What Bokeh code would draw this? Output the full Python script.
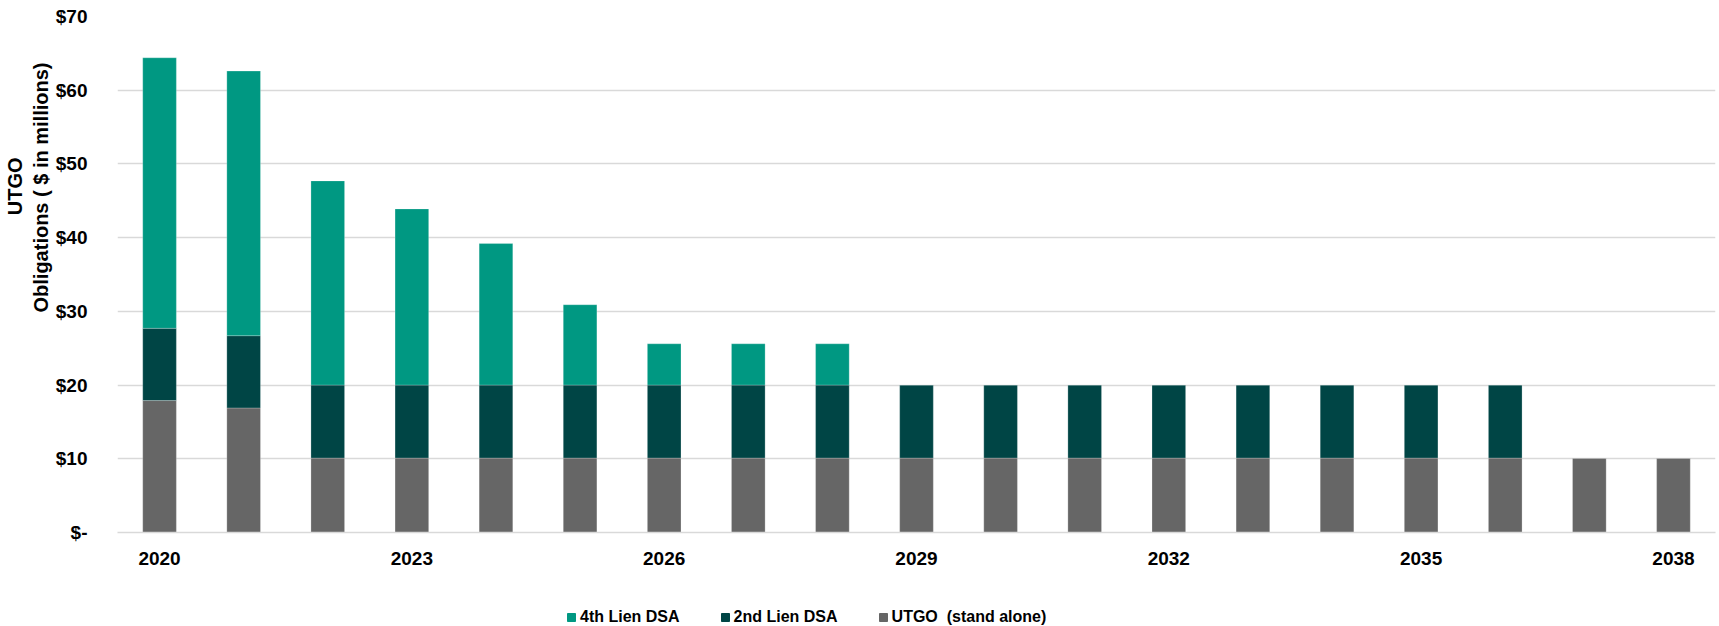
from bokeh.plotting import figure
from bokeh.layouts import column
from bokeh.models import ColumnDataSource, FixedTicker, Legend, LegendItem, Title
from bokeh.embed import file_html
from bokeh.resources import INLINE

years = list(range(2020, 2039))
utgo = [17.9, 16.9] + [10.1] * 17
lien2 = [9.8, 9.8] + [9.9] * 15 + [0, 0]
lien4 = [36.7, 35.9, 27.7, 23.9, 19.2, 10.9, 5.6, 5.6, 5.6] + [0] * 10
y_ticks = [0, 10, 20, 30, 40, 50, 60, 70]
y_tick_labels = ["$-", "$10", "$20", "$30", "$40", "$50", "$60", "$70"]
x_ticks = [2020, 2023, 2026, 2029, 2032, 2035, 2038]
series = ["utgo", "lien2", "lien4"]
names = {"lien4": "4th Lien DSA", "lien2": "2nd Lien DSA", "utgo": "UTGO  (stand alone)"}
colors = {"utgo": "#666666", "lien2": "#004545", "lien4": "#009882"}

source = ColumnDataSource(dict(year=years, utgo=utgo, lien2=lien2, lien4=lien4))
font = "Liberation Sans"
W = 1717

p = figure(width=W, height=588, output_backend="svg", toolbar_location=None,
           x_range=(2019.5, 2038.5), y_range=(0, 70))
p.min_border_left = 117
p.min_border_right = 2
p.min_border_top = 16
p.min_border_bottom = 56
p.outline_line_color = None

rs = p.vbar_stack(series, x="year", width=0.4, source=source,
                  color=[colors[s] for s in series], line_color="white", line_width=0.4,
                  line_alpha=0.6)

p.xaxis.ticker = FixedTicker(ticks=x_ticks)
p.xaxis.major_tick_line_color = None
p.xaxis.minor_tick_line_color = None
p.xaxis.axis_line_color = "#d9d9d9"
p.xaxis.axis_line_width = 1.5
p.xaxis.major_label_text_font = font
p.xaxis.major_label_text_font_style = "bold"
p.xaxis.major_label_text_font_size = "19px"
p.xaxis.major_label_text_color = "#000000"
p.xaxis.major_label_standoff = 13

p.yaxis.ticker = FixedTicker(ticks=y_ticks)
p.yaxis.major_label_overrides = {t: l for t, l in zip(y_ticks, y_tick_labels)}
p.yaxis.major_tick_line_color = None
p.yaxis.minor_tick_line_color = None
p.yaxis.axis_line_color = None
p.yaxis.major_label_text_font = font
p.yaxis.major_label_text_font_style = "bold"
p.yaxis.major_label_text_font_size = "19px"
p.yaxis.major_label_text_color = "#000000"
p.yaxis.major_label_standoff = 24

p.xgrid.grid_line_color = None
p.ygrid.grid_line_color = "#d9d9d9"
p.ygrid.grid_line_width = 1.5
p.ygrid.ticker = FixedTicker(ticks=y_ticks)

for txt, off in [("Obligations ( $ in millions)", 46), ("UTGO", 141)]:
    p.add_layout(Title(text=txt, align="right", offset=off, standoff=2,
                       text_font=font, text_font_style="bold", text_font_size="20px",
                       text_color="#000000"), "left")

# legend strip below the chart
lg = figure(width=W, height=38, output_backend="svg", toolbar_location=None,
            x_range=(0, 1), y_range=(0, 1), min_border=0)
lg.axis.visible = False
lg.grid.visible = False
lg.outline_line_color = None
order = ["lien4", "lien2", "utgo"]
items = []
for s in order:
    r = lg.vbar(x=[0.5], top=[-50], bottom=[-60], width=0.01, color=colors[s])
    items.append(LegendItem(label=names[s], renderers=[r]))
legend = Legend(items=items, orientation="horizontal", location=(449, 0),
                label_text_font=font, label_text_font_style="bold",
                label_text_font_size="16px", label_text_color="#000000",
                glyph_width=10, glyph_height=10, label_standoff=4, spacing=40,
                border_line_color=None, background_fill_alpha=0, margin=0, padding=2,
                label_height=16)
lg.add_layout(legend)

layout = column(p, lg, spacing=0)
open("out.html", "w").write(file_html(layout, INLINE))
